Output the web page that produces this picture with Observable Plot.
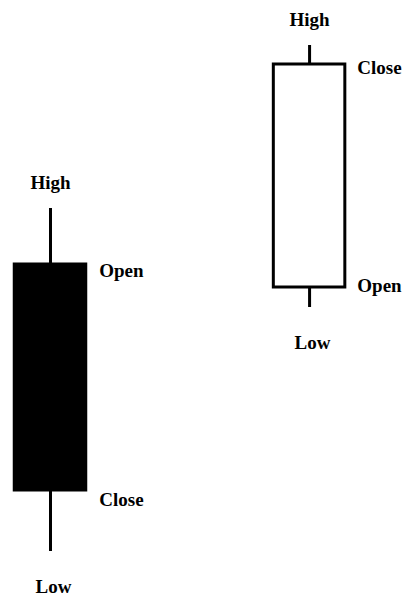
<!DOCTYPE html>
<html>
<head>
<meta charset="utf-8">
<script src="https://cdn.jsdelivr.net/npm/d3@7"></script>
<script src="https://cdn.jsdelivr.net/npm/@observablehq/plot@0.6"></script>
<style>
html, body { margin: 0; padding: 0; background: #fff; }
</style>
</head>
<body>
<div id="chart"></div>
<script>
// Candle data (price units)
const days   = [1, 2];
const opens  = [344, 321];
const closes = [118, 544];
const highs  = [400, 563];
const lows   = [57, 301];

const candles = days.map((d, i) => ({
  day: d, open: opens[i], close: closes[i], high: highs[i], low: lows[i],
  top: Math.max(opens[i], closes[i]), bottom: Math.min(opens[i], closes[i]),
  bull: closes[i] > opens[i]
}));
const half = 0.138;

const font = "'Liberation Serif', 'DejaVu Serif', serif";
const txt = {fontSize: 19, fontWeight: "bold", fontFamily: font, fill: "black"};

const sideLabel = (c, key, dy) => Plot.text([c], {
  x: d => d.day + half, y: key, text: () => key === "open" ? "Open" : "Close",
  dx: c.bull ? 12 : 13, dy, textAnchor: "start", ...txt
});

const chart = Plot.plot({
  width: 414,
  height: 608,
  margin: 0,
  x: {domain: [0.807, 2.405], axis: null},
  y: {domain: [0, 608], axis: null},
  marks: [
    Plot.ruleX(candles, {x: "day", y1: "low", y2: "high", stroke: "black", strokeWidth: 3}),
    Plot.rect(candles, {
      x1: c => c.day - half, x2: c => c.day + half,
      y1: "bottom", y2: "top",
      fill: c => c.bull ? "white" : "black",
      stroke: "black", strokeWidth: 3
    }),
    Plot.text(candles, {x: "day", y: "high", text: () => "High", dy: -26, ...txt}),
    Plot.text(candles, {x: "day", y: "low", text: () => "Low", dy: 35, dx: 3, ...txt}),
    sideLabel(candles[0], "open", 6),
    sideLabel(candles[0], "close", 9),
    sideLabel(candles[1], "close", 3),
    sideLabel(candles[1], "open", -2)
  ]
});
chart.style.fontFamily = font;
document.getElementById("chart").append(chart);
</script>
</body>
</html>
